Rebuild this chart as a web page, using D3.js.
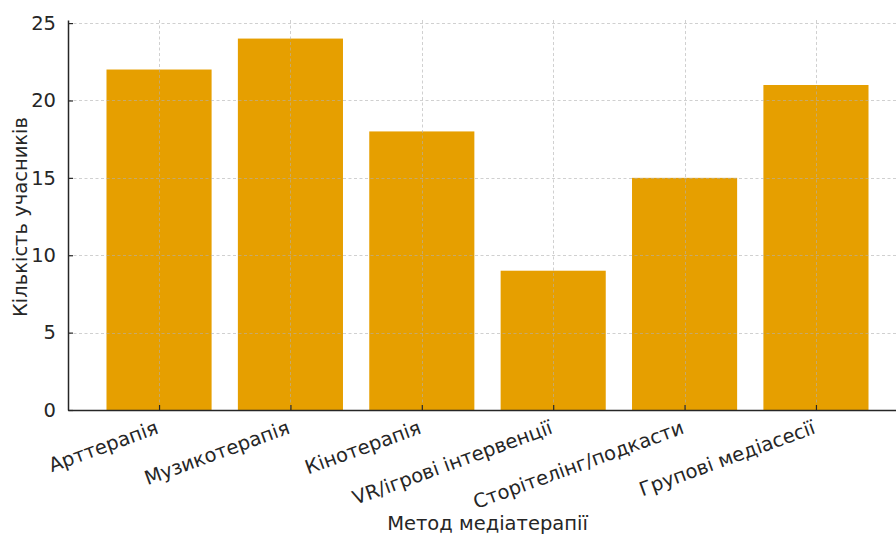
<!DOCTYPE html>
<html>
<head>
<meta charset="utf-8">
<script src="https://cdn.jsdelivr.net/npm/d3@7"></script>
<style>
  html, body { margin: 0; padding: 0; background: #fff; }
  svg { display: block; font-family: "DejaVu Sans", sans-serif; }
</style>
</head>
<body>
<svg id="chart" width="896" height="534"></svg>
<script>
// Methods and participant counts
const categories = ["Арттерапія", "Музикотерапія", "Кінотерапія", "VR/ігрові інтервенції", "Сторітелінг/подкасти", "Групові медіасесії"];
const values = [22, 24, 18, 9, 15, 21];
const yTicks = [0, 5, 10, 15, 20, 25];
const xTitle = "Метод медіатерапії";
const yTitle = "Кількість учасників";

const svg = d3.select("#chart");
const plotLeft = 68, plotRight = 907, plotTop = 20, plotBottom = 410;
const barColor = "#E69F00";
const ink = "#262626";
const fs = 19.5;

// Category positions on a continuous index scale (bar width 0.8 of a slot)
const x = d3.scaleLinear().domain([-0.693, categories.length - 1 + 0.693]).range([plotLeft, plotRight]);
const y = d3.scaleLinear().domain([0, 25.2]).range([plotBottom, plotTop]);
const barW = (x(1) - x(0)) * 0.8;

// Bars
svg.append("g").selectAll("rect").data(values).join("rect")
  .attr("x", (d, i) => x(i) - barW / 2)
  .attr("y", d => y(d))
  .attr("width", barW)
  .attr("height", d => y(0) - y(d))
  .attr("fill", barColor);

// Grid on top of the bars
const grid = svg.append("g").attr("stroke", "#b0b0b0").attr("stroke-opacity", 0.6)
  .attr("stroke-width", 1).attr("stroke-dasharray", "3,2.5");
grid.selectAll("line.h").data(yTicks).join("line").attr("class", "h")
  .attr("x1", plotLeft).attr("x2", plotRight)
  .attr("y1", d => Math.round(y(d)) + 0.5).attr("y2", d => Math.round(y(d)) + 0.5);
grid.selectAll("line.v").data(categories).join("line").attr("class", "v")
  .attr("x1", (d, i) => Math.round(x(i)) + 0.5).attr("x2", (d, i) => Math.round(x(i)) + 0.5)
  .attr("y1", plotTop).attr("y2", plotBottom);

// Y axis
const yAxis = d3.axisLeft(y).tickValues(yTicks).tickSizeInner(-5).tickSizeOuter(0).tickPadding(12);
const gy = svg.append("g").attr("transform", `translate(${plotLeft},0)`).call(yAxis);
gy.select(".domain").attr("stroke", ink).attr("stroke-width", 1.5);
gy.selectAll(".tick line").attr("stroke", ink).attr("stroke-width", 1.2);
gy.selectAll(".tick text").attr("fill", ink).attr("font-size", fs).attr("font-family", "DejaVu Sans");

// X axis
const xAxis = d3.axisBottom(x).tickValues(d3.range(categories.length))
  .tickFormat(i => categories[i]).tickSizeInner(-5).tickSizeOuter(0).tickPadding(8);
const gx = svg.append("g").attr("transform", `translate(0,${plotBottom})`).call(xAxis);
gx.select(".domain").attr("stroke", ink).attr("stroke-width", 1.5);
gx.selectAll(".tick line").attr("stroke", ink).attr("stroke-width", 1.2);
gx.selectAll(".tick text")
  .attr("fill", ink).attr("font-size", fs).attr("font-family", "DejaVu Sans")
  .attr("text-anchor", "end").attr("dy", null).attr("y", 0)
  .attr("transform", "translate(0,23) rotate(-20)");

// Axis titles
svg.append("text").attr("x", (plotLeft + plotRight) / 2).attr("y", 530)
  .attr("text-anchor", "middle").attr("font-size", fs).attr("fill", ink).text(xTitle);
svg.append("text").attr("transform", `translate(27,${(plotTop + plotBottom) / 2 + 2}) rotate(-90)`)
  .attr("text-anchor", "middle").attr("font-size", fs).attr("fill", ink).text(yTitle);
</script>
</body>
</html>
